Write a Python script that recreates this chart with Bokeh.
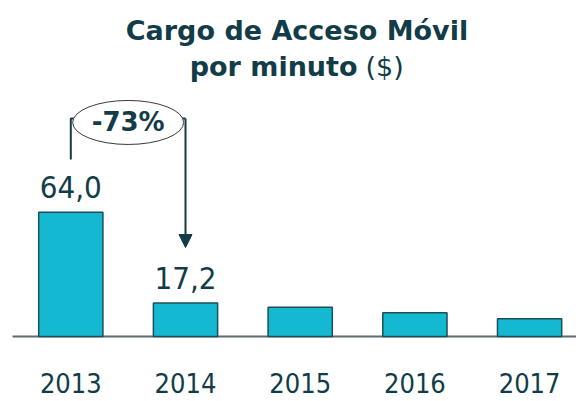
from bokeh.plotting import figure
from bokeh.models import Range1d, Arrow, NormalHead
from bokeh.embed import file_html
from bokeh.resources import INLINE
from bokeh.core.properties import value

# ---- data ----
years = ["2013", "2014", "2015", "2016", "2017"]
charges = [64.0, 17.2, 15.1, 12.2, 9.1]
labeled_idx = [0, 1]
title_line1 = "Cargo de Acceso Móvil"
title_line2 = "por minuto"
title_unit = "($)"

# ---- style ----
FONT_C = "DejaVu Sans Condensed"
FONT = "DejaVu Sans"
DARK = "#123c47"
BAR_FILL = "#14b8d0"
BAR_LINE = "#1d4f5a"

W, H = 576, 401
X0, X1 = -0.613, 4.409
p = figure(width=W, height=H, output_backend="svg", toolbar_location=None,
           x_range=Range1d(X0, X1), y_range=Range1d(-33.47, 173.0),
           x_axis_location=None, y_axis_location=None, min_border=0,
           outline_line_color=None)
p.grid.visible = False
p.background_fill_color = "white"
p.border_fill_color = "white"

idx = list(range(len(years)))

# baseline
p.segment(x0=[X0 + 0.105], y0=[0], x1=[X1], y1=[0], line_color="#5f6b6d", line_width=2)

# bars
p.vbar(x=idx, top=charges, bottom=0, width=0.56, fill_color=BAR_FILL,
       line_color=BAR_LINE, line_width=1.5)

# year labels
p.text(x=idx, y=[0] * len(idx), text=years, text_align="center",
       text_baseline="middle", y_offset=47, text_font=value(FONT_C),
       text_font_size="27px", text_color=DARK)

# value labels
lab_x = [idx[i] for i in labeled_idx]
lab_y = [charges[i] for i in labeled_idx]
lab_t = [f"{charges[i]:.1f}".replace(".", ",") for i in labeled_idx]
p.text(x=lab_x, y=lab_y, text=lab_t, text_align="center",
       text_baseline="middle", y_offset=-25, text_font=value(FONT_C),
       text_font_size="31px", text_color=DARK)

# change annotation
a, b = labeled_idx
mid = (a + b) / 2
bracket_top = 112.3
left_bottom = 91.1
arrow_end = 45.8
ell_y = 110.2
p.multi_line(xs=[[a, a, a + 0.04], [b - 0.04, b]],
             ys=[[left_bottom, bracket_top, bracket_top], [bracket_top, bracket_top]],
             line_color=DARK, line_width=2)
p.add_layout(Arrow(x_start=b, y_start=bracket_top, x_end=b, y_end=arrow_end,
                   line_color=DARK, line_width=2,
                   end=NormalHead(size=13, fill_color=DARK, line_color=DARK)))
p.ellipse(x=[mid], y=[ell_y], width=111, height=44, width_units="screen",
          height_units="screen", fill_color="white", line_color="#3a3a3a",
          line_width=1)
pct = round((charges[b] - charges[a]) / charges[a] * 100)
p.text(x=[mid], y=[ell_y], text=[f"{pct}%"], text_align="center",
       text_baseline="middle", text_font=value(FONT), text_font_style="bold",
       text_font_size="26px", text_color=DARK)

# title
p.text(x=[1.972], y=[157.5], text=[title_line1], text_align="center",
       text_baseline="middle", text_font=value(FONT), text_font_style="bold",
       text_font_size="27px", text_color=DARK)
p.text(x=[2.500], y=[139.1], text=[title_line2], text_align="right",
       text_baseline="middle", text_font=value(FONT), text_font_style="bold",
       text_font_size="27px", text_color=DARK)
p.text(x=[2.569], y=[139.1], text=[title_unit], text_align="left",
       text_baseline="middle", text_font=value(FONT),
       text_font_size="27px", text_color=DARK)

open("out.html", "w").write(file_html(p, INLINE))
